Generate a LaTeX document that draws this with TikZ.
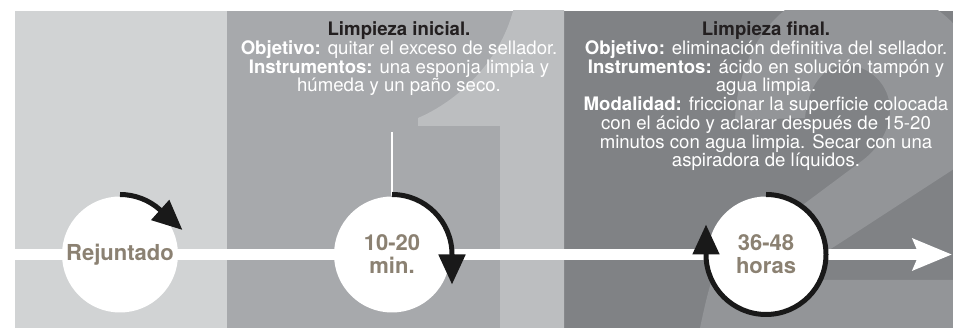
\documentclass[tikz,border=0pt]{standalone}
\usepackage{fontspec}
\setmainfont{TeX Gyre Heros}
\usetikzlibrary{arrows.meta}
\definecolor{panelA}{HTML}{D1D3D4}
\definecolor{panelB}{HTML}{A7A9AC}
\definecolor{panelC}{HTML}{808285}
\definecolor{digitB}{HTML}{BCBEC0}
\definecolor{digitC}{HTML}{939598}
\definecolor{inkdark}{HTML}{231F20}
\definecolor{labelbrown}{HTML}{8B8172}
\tikzset{
  stage/.style={circle,fill=white,minimum size=116pt,inner sep=0pt,align=center,
    font=\fontsize{22}{23}\selectfont\bfseries,text=labelbrown},
  info/.style={align=center,text=white,inner sep=0pt,anchor=north,
    font=\fontsize{18.6}{16.75}\selectfont},
  clockarc/.style={draw=black!90,line width=5pt,-{Triangle[length=30pt,width=26pt]}}
}
\begin{document}
\begin{tikzpicture}[x=1pt,y=1pt]
  \useasboundingbox (0,0) rectangle (953,328);
  \foreach \xa/\xb/\col in {15/227/panelA,227/564/panelB,564/953/panelC}
    \fill[\col] (\xa,0) rectangle (\xb,317);
  % big numbers behind
  \begin{scope}
    \clip (227,0) rectangle (564,317);
    \fill[digitB] (500,-10) -- (500,202) -- (418,202) -- (418,210)
      .. controls (460,228) and (500,268) .. (513,317) -- (513,340)
      -- (570,340) -- (570,-10) -- cycle;
  \end{scope}
  \begin{scope}
    \clip (564,0) rectangle (953,317);
    \fill[digitC] (735,208) .. controls (738,288) and (790,343) .. (855,343)
      .. controls (925,343) and (985,300) .. (985,218)
      .. controls (985,188) and (975,176) .. (960,163)
      -- (840,85) -- (782,48) -- (1000,48) -- (1000,-12) -- (695,-12) -- (700,0)
      .. controls (708,38) and (715,66) .. (727,78) -- (800,121) -- (863,168)
      .. controls (880,181) and (890,200) .. (890,218)
      .. controls (890,243) and (870,263) .. (845,263)
      .. controls (825,263) and (808,243) .. (805,210) -- cycle;
  \end{scope}
  % time line
  \coordinate (start) at (15,73.5);
  \coordinate (end) at (952,73.5);
  \draw[white,line width=10.5pt,-{Stealth[length=39pt,width=31pt,inset=6pt]}] (start) -- (end);
  \node[stage] (rej) at (120,73.5) {Rejuntado};
  \node[stage] (ini) at (392,73.5) {10-20\\min.};
  \node[stage] (fin) at (766,73.5) {36-48\\horas};
  \coordinate (inientry) at (392,196);
  \draw[white,line width=1.8pt] (inientry) -- (ini.north);
  \draw[clockarc] ([shift={(90:60pt)}]rej.center) arc[start angle=90,end angle=48,radius=60pt] -- ++(-42:30pt);
  \draw[clockarc] ([shift={(90:60pt)}]ini.center) arc[start angle=90,end angle=0,radius=60pt] -- ++(0,-30);
  \draw[clockarc] ([shift={(90:60pt)}]fin.center) arc[start angle=90,end angle=-180,radius=60pt] -- ++(0,30);
  % texts
  \node[info] (txtini) at (399,306.5) {{\color{inkdark}\bfseries Limpieza inicial.}\\
    \textbf{Objetivo:} quitar el exceso de sellador.\\
    \textbf{Instrumentos:} una esponja limpia y\\
    húmeda y un paño seco.};
  \node[info] (txtfin) at (766,306.5) {{\color{inkdark}\bfseries Limpieza final.}\\
    \textbf{Objetivo:} eliminación definitiva del sellador.\\
    \textbf{Instrumentos:} ácido en solución tampón y\\
    agua limpia.\\
    \textbf{Modalidad:} friccionar la superficie colocada\\
    con el ácido y aclarar después de 15-20\\
    minutos con agua limpia. Secar con una\\
    aspiradora de líquidos.};
\end{tikzpicture}
\end{document}
